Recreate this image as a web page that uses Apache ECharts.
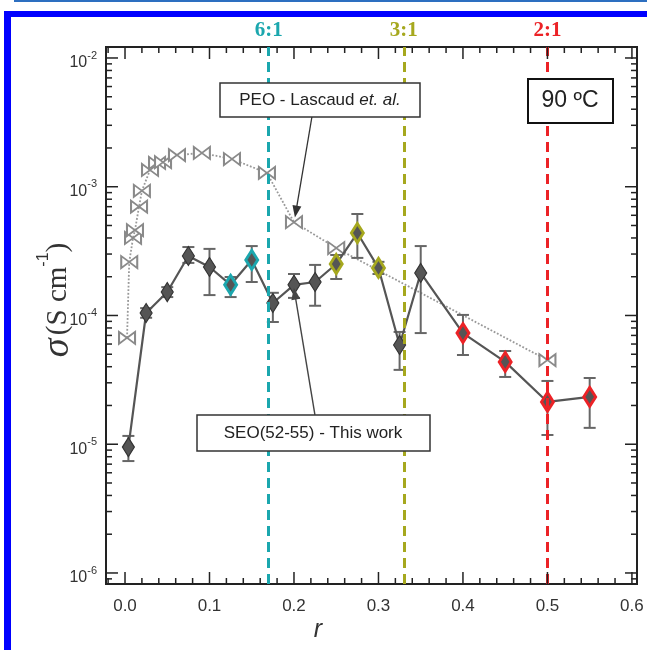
<!DOCTYPE html>
<html><head><meta charset="utf-8">
<script src="https://cdn.jsdelivr.net/npm/echarts@6/dist/echarts.min.js"></script>
<style>html,body{margin:0;padding:0;background:#fff}#c{width:647px;height:650px}</style>
</head><body><div id="c"></div>
<script>
// ---- data ----
const seoR     = [0.004, 0.025, 0.05, 0.075, 0.1, 0.125, 0.15, 0.175, 0.2, 0.225, 0.25, 0.275, 0.3, 0.325, 0.35, 0.4, 0.45, 0.5, 0.55];
const seoSigma = [9.5e-6, 1.045e-4, 1.52e-4, 2.9e-4, 2.38e-4, 1.73e-4, 2.7e-4, 1.25e-4, 1.73e-4, 1.82e-4, 2.51e-4, 4.37e-4, 2.34e-4, 5.9e-5, 2.14e-4, 7.3e-5, 4.36e-5, 2.13e-5, 2.33e-5];
const seoLow   = [7.4e-6, 9.6e-5, 1.39e-4, 2.56e-4, 1.44e-4, 1.39e-4, 1.82e-4, 8.9e-5, 1.37e-4, 1.19e-4, 1.92e-4, 2.8e-4, 2.1e-4, 3.78e-5, 7.3e-5, 4.93e-5, 3.33e-5, 1.18e-5, 1.34e-5];
const seoHigh  = [1.16e-5, 1.14e-4, 1.66e-4, 3.4e-4, 3.29e-4, 1.99e-4, 3.46e-4, 1.5e-4, 2.1e-4, 2.47e-4, 2.95e-4, 6.14e-4, 2.61e-4, 7.45e-5, 3.46e-4, 1.01e-4, 5.3e-5, 3.1e-5, 3.27e-5];
const seoPhase = ['none','none','none','none','none','6:1','6:1','none','none','none','3:1','3:1','3:1','none','none','2:1','2:1','2:1','2:1'];

const peoR     = [0.0024, 0.005, 0.0095, 0.0118, 0.0166, 0.02, 0.0296, 0.0379, 0.045, 0.0615, 0.091, 0.1266, 0.168, 0.2, 0.25, 0.5];
const peoSigma = [6.7e-5, 2.6e-4, 4.0e-4, 4.6e-4, 7.0e-4, 9.3e-4, 1.35e-3, 1.53e-3, 1.55e-3, 1.76e-3, 1.83e-3, 1.64e-3, 1.28e-3, 5.3e-4, 3.34e-4, 4.5e-5];

const phaseR      = [1/6, 1/3, 0.5];
const phaseLabels = ['6:1', '3:1', '2:1'];
const xTickValues = [0, 0.1, 0.2, 0.3, 0.4, 0.5, 0.6];
const yTickExps   = [-6, -5, -4, -3, -2];

// annotation arrows (data coordinates)
const peoArrow = [[0.2212, 3.48e-3], [0.2023, 6.4e-4]];
const seoArrow = [[0.2248, 1.69e-5], [0.2010, 1.48e-4]];

// ---- styling ----
const phaseColors = {'6:1': '#1ba7ae', '3:1': '#a6a81e', '2:1': '#ec2226'};
const X_MIN = -0.0225, X_MAX = 0.606, Y_MIN = 8.21e-7, Y_MAX = 1.217e-2;

const chart = echarts.init(document.getElementById('c'), null, {renderer: 'canvas'});

function tickRender(params, api) {
  const bl = api.coord([X_MIN, Y_MIN]);
  const tr = api.coord([X_MAX, Y_MAX]);
  const left = bl[0], bottom = bl[1], right = tr[0], top = tr[1];
  const ch = [];
  const add = (a, b, c, d) => ch.push({type: 'line', shape: {x1: a, y1: b, x2: c, y2: d}, style: {stroke: '#222', lineWidth: 1.5}});
  for (let k = -1; k <= 30; k++) {
    const v = k * 0.02;
    if (v < X_MIN || v > X_MAX) continue;
    const L = (k % 5 === 0) ? 12 : 6;
    const px = api.coord([v, Y_MIN])[0];
    add(px, bottom, px, bottom - L);
    add(px, top, px, top + L);
  }
  for (let e = -7; e <= -2; e++) {
    for (let m = 1; m <= 9; m++) {
      const v = m * Math.pow(10, e);
      if (v < Y_MIN || v > Y_MAX) continue;
      const L = (m === 1) ? 12 : 6;
      const py = api.coord([0, v])[1];
      add(left, py, left + L, py);
      add(right, py, right - L, py);
    }
  }
  return {type: 'group', children: ch};
}

function errRender(params, api) {
  const x = api.value(0);
  const t = api.coord([x, api.value(3)]);
  const b = api.coord([x, api.value(2)]);
  const w = 6;
  const st = {stroke: '#666', lineWidth: 2};
  return {type: 'group', children: [
    {type: 'line', shape: {x1: t[0], y1: t[1], x2: b[0], y2: b[1]}, style: st},
    {type: 'line', shape: {x1: t[0] - w, y1: t[1], x2: t[0] + w, y2: t[1]}, style: st},
    {type: 'line', shape: {x1: b[0] - w, y1: b[1], x2: b[0] + w, y2: b[1]}, style: st}
  ]};
}

const seoData = seoR.map((r, i) => {
  const ph = seoPhase[i];
  const col = phaseColors[ph];
  return {
    value: [r, seoSigma[i]],
    itemStyle: col ? {color: '#555', borderColor: col, borderWidth: 3} : {color: '#555', borderColor: '#333', borderWidth: 1.2}
  };
});

const option = {
  animation: false,
  backgroundColor: '#fff',
  grid: {left: 106, right: 10, top: 47, bottom: 66, show: true, borderColor: '#222', borderWidth: 2, backgroundColor: 'transparent'},
  xAxis: {
    type: 'value', min: X_MIN, max: X_MAX,
    axisLine: {show: false}, axisTick: {show: false}, splitLine: {show: false},
    axisLabel: {
      margin: 14, color: '#333', fontSize: 17, fontFamily: 'Liberation Sans',
      formatter: v => {
        const hit = xTickValues.some(t => Math.abs(t - v) < 1e-6);
        return hit ? v.toFixed(1) : '';
      }
    }
  },
  yAxis: {
    type: 'log', logBase: 10, min: Y_MIN, max: Y_MAX,
    axisLine: {show: false}, axisTick: {show: false}, splitLine: {show: false},
    axisLabel: {
      margin: 9, color: '#333', fontFamily: 'Liberation Sans',
      formatter: v => {
        const e = Math.log10(v);
        const r = Math.round(e);
        if (Math.abs(e - r) > 1e-6 || yTickExps.indexOf(r) < 0) return '';
        return '{b|10}{s|' + r + '}';
      },
      rich: {
        b: {fontSize: 16, color: '#333', fontFamily: 'Liberation Sans', padding: [10, 0, 0, 0]},
        s: {fontSize: 11, color: '#333', fontFamily: 'Liberation Sans', padding: [0, 0, 5, 0]}
      }
    }
  },
  series: [
    {
      name: 'phases', type: 'line', data: [], z: 1, silent: true,
      markLine: {
        silent: true, symbol: ['none', 'none'],
        lineStyle: {type: [10, 6], width: 3},
        label: {show: true, position: 'end', distance: 6, fontFamily: 'Liberation Serif', fontWeight: 'bold', fontSize: 21},
        data: phaseR.map((r, i) => ({
          xAxis: r,
          lineStyle: {color: phaseColors[phaseLabels[i]], type: [10, 6], width: 3},
          label: {formatter: phaseLabels[i], color: phaseColors[phaseLabels[i]]}
        }))
      }
    },
    {
      name: 'PEO - Lascaud et al.', type: 'line', z: 2,
      data: peoR.map((r, i) => [r, peoSigma[i]]),
      symbol: 'path://M0,0 L0,10 L8,5 Z M16,0 L16,10 L8,5 Z',
      symbolSize: [16, 12], symbolKeepAspect: false,
      itemStyle: {color: '#fff', borderColor: '#8a8a8a', borderWidth: 1.8},
      lineStyle: {color: '#999', type: 'dotted', width: 1.8}
    },
    {
      name: 'errors', type: 'custom', z: 3, silent: true,
      renderItem: errRender, encode: {x: 0, y: 1},
      data: seoR.map((r, i) => [r, seoSigma[i], seoLow[i], seoHigh[i]])
    },
    {
      name: 'SEO(52-55) - This work', type: 'line', z: 4,
      data: seoData,
      symbol: 'diamond', symbolSize: [12, 19],
      lineStyle: {color: '#555', width: 2.2}
    },
    {
      name: 'arrows', type: 'line', data: [], z: 5, silent: true,
      markLine: {
        silent: true,
        symbol: ['none', 'triangle'], symbolSize: [9, 12],
        lineStyle: {color: '#333', width: 1.3, type: 'solid'},
        label: {show: false},
        data: [
          [{coord: peoArrow[0]}, {coord: peoArrow[1]}],
          [{coord: seoArrow[0], lineStyle: {color: '#444', width: 1.4}}, {coord: seoArrow[1]}]
        ]
      }
    },
    {
      name: 'ticks', type: 'custom', z: 6, silent: true,
      renderItem: tickRender, encode: {x: 0, y: 1},
      data: [[0.1, 1e-4]]
    }
  ],
  graphic: [
    {type: 'rect', shape: {x: 14, y: 0, width: 633, height: 2}, style: {fill: '#2d6fc0'}, silent: true},
    {type: 'rect', shape: {x: 4, y: 11, width: 643, height: 6}, style: {fill: '#0000ff'}, silent: true},
    {type: 'rect', shape: {x: 4, y: 11, width: 7, height: 639}, style: {fill: '#0000ff'}, silent: true},
    // PEO label box
    {type: 'rect', z: 10, shape: {x: 220, y: 83, width: 200, height: 34}, style: {fill: '#fff', stroke: '#333', lineWidth: 1.5}},
    {type: 'text', z: 11, x: 320, y: 100, style: {
      text: '{n|PEO - Lascaud }{i|et. al.}', align: 'center', verticalAlign: 'middle',
      rich: {n: {fontSize: 17, fontFamily: 'Liberation Sans', fill: '#222'}, i: {fontSize: 17, fontFamily: 'Liberation Sans', fontStyle: 'italic', fill: '#222'}}
    }},
    // SEO label box
    {type: 'rect', z: 10, shape: {x: 197, y: 415, width: 233, height: 36}, style: {fill: '#fff', stroke: '#333', lineWidth: 1.5}},
    {type: 'text', z: 11, x: 313, y: 433, style: {text: 'SEO(52-55) - This work', align: 'center', verticalAlign: 'middle', fontSize: 17, fontFamily: 'Liberation Sans', fill: '#222'}},
    // temperature box
    {type: 'rect', z: 10, shape: {x: 528, y: 79, width: 85, height: 44}, style: {fill: '#fff', stroke: '#111', lineWidth: 2}},
    {type: 'text', z: 11, x: 570, y: 101, style: {text: '90 ºC', align: 'center', verticalAlign: 'middle', fontSize: 23, fontFamily: 'Liberation Sans', fill: '#222'}},
    // axis titles
    {type: 'text', z: 11, x: 58, y: 300, rotation: Math.PI / 2, style: {
      text: '{g|σ} {p|(S cm}{e|-1}{p|)}', align: 'center', verticalAlign: 'middle',
      rich: {
        g: {fontSize: 38, fontFamily: 'Liberation Serif', fontStyle: 'italic', fill: '#333'},
        p: {fontSize: 29, fontFamily: 'Liberation Serif', fill: '#333'},
        e: {fontSize: 16, fontFamily: 'Liberation Sans', fill: '#333', padding: [0, 0, 28, 0]}
      }
    }},
    {type: 'text', z: 11, x: 318, y: 630, style: {text: 'r', align: 'center', verticalAlign: 'middle', fontSize: 25, fontFamily: 'Liberation Sans', fontStyle: 'italic', fill: '#333'}}
  ]
};
chart.setOption(option);
</script>
</body></html>
